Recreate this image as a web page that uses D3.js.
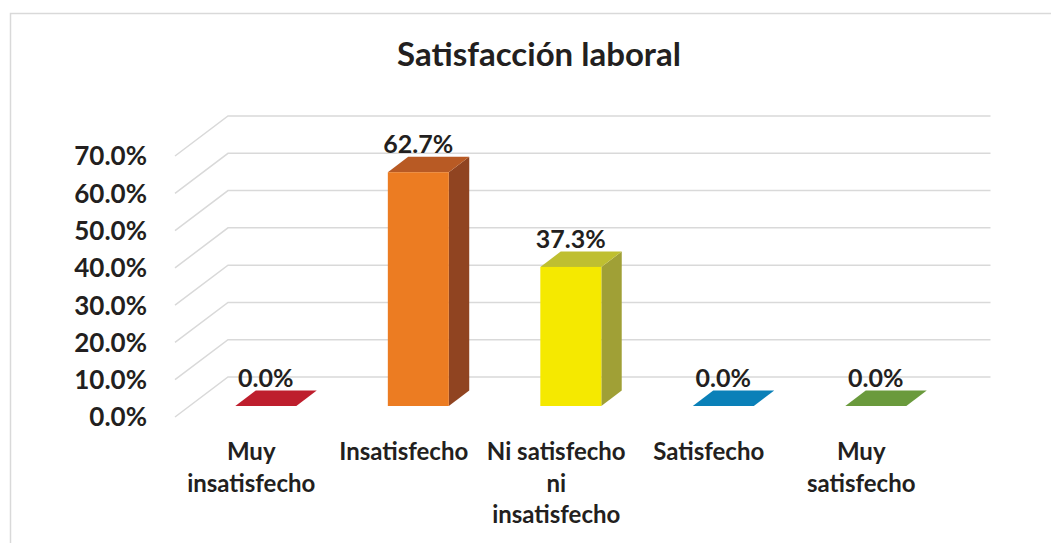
<!DOCTYPE html>
<html>
<head>
<meta charset="utf-8">
<script src="https://cdn.jsdelivr.net/npm/d3@7"></script>
<style>
  body { margin: 0; background: white; }
  text { font-family: Lato, 'Open Sans', sans-serif; font-weight: bold; fill: #231f20; }
</style>
</head>
<body>
<svg width="1051" height="543"></svg>
<script>
const svg = d3.select('svg');
const svgWidth = +svg.attr('width');
const svgHeight = +svg.attr('height');

// data
const chartTitle = 'Satisfacción laboral';
const categories = ['Muy insatisfecho', 'Insatisfecho', 'Ni satisfecho ni insatisfecho', 'Satisfecho', 'Muy satisfecho'];
const categoryLines = [['Muy', 'insatisfecho'], ['Insatisfecho'], ['Ni satisfecho', 'ni', 'insatisfecho'], ['Satisfecho'], ['Muy', 'satisfecho']];
const values = [0, 0.627, 0.373, 0, 0];
const tickValues = [0, 0.1, 0.2, 0.3, 0.4, 0.5, 0.6, 0.7];
const frontColors = ['#be1e2d', '#ec7c22', '#f5e900', '#0a80b8', '#6a9a3c'];
const sideColors = ['#8a1520', '#904421', '#a0a036', '#075d86', '#4c6f2b'];
const topColors = ['#be1e2d', '#b85a24', '#bfbf30', '#0a80b8', '#6a9a3c'];

// 3d look: wall depth and bar depth offsets
const wallDx = 53, wallDy = -40;
const barFront = 0.275, barBack = 0.66;

const x = d3.scaleBand()
  .domain(categories)
  .range([175, 937.5])
  .paddingInner(0.6)
  .paddingOuter(0.3);

const y = d3.scaleLinear()
  .domain([0, 0.7])
  .range([417, 156]);

const fmt = d3.format('.1%');

// chart border
svg.append('path')
  .attr('d', `M10.5,${svgHeight} V13.5 H${svgWidth}`)
  .attr('fill', 'none')
  .attr('stroke', '#d9d9d9')
  .attr('stroke-width', 1.5);

svg.append('text')
  .attr('x', 539)
  .attr('y', 66)
  .attr('text-anchor', 'middle')
  .style('font-size', '33px')
  .text(chartTitle);

// gridlines: side wall diagonal + back wall horizontal
const x0 = x.range()[0], x1 = x.range()[1];
svg.append('g')
  .attr('class', 'grid')
  .selectAll('path')
  .data(tickValues)
  .join('path')
    .attr('d', t => `M${x0},${y(t)} L${x0 + wallDx},${y(t) + wallDy} L${x1 + wallDx},${y(t) + wallDy}`)
    .attr('fill', 'none')
    .attr('stroke', '#d9d9d9')
    .attr('stroke-width', 1.5);

svg.append('g')
  .attr('class', 'y-ticks')
  .selectAll('text')
  .data(tickValues)
  .join('text')
    .attr('x', 147)
    .attr('y', t => y(t))
    .attr('dy', '0.36em')
    .attr('text-anchor', 'end')
    .style('font-size', '26px')
    .text(fmt);

const bars = svg.append('g')
  .attr('class', 'bars')
  .selectAll('g.bar')
  .data(categories.map((c, i) => ({ c, v: values[i], i })))
  .join('g')
    .attr('class', 'bar');

const pts = d => {
  const fx = x(d.c) + barFront * wallDx, fy = barFront * wallDy;
  const bx = x(d.c) + barBack * wallDx, by = barBack * wallDy;
  const w = x.bandwidth();
  return { fx, fy, bx, by, w, y0: y(0), y1: y(d.v) };
};

// right side
bars.append('path')
  .attr('d', d => {
    const p = pts(d);
    return `M${p.fx + p.w},${p.y0 + p.fy} L${p.bx + p.w},${p.y0 + p.by} L${p.bx + p.w},${p.y1 + p.by} L${p.fx + p.w},${p.y1 + p.fy}Z`;
  })
  .attr('fill', d => sideColors[d.i]);

// top
bars.append('path')
  .attr('d', d => {
    const p = pts(d);
    return `M${p.fx},${p.y1 + p.fy} L${p.bx},${p.y1 + p.by} L${p.bx + p.w},${p.y1 + p.by} L${p.fx + p.w},${p.y1 + p.fy}Z`;
  })
  .attr('fill', d => topColors[d.i]);

// front
bars.append('rect')
  .attr('x', d => pts(d).fx)
  .attr('y', d => y(d.v) + pts(d).fy)
  .attr('width', x.bandwidth())
  .attr('height', d => y(0) - y(d.v))
  .attr('fill', d => frontColors[d.i]);

// value labels
bars.append('text')
  .attr('x', d => pts(d).fx + x.bandwidth() / 2)
  .attr('y', d => y(d.v) + pts(d).by - 4)
  .attr('text-anchor', 'middle')
  .style('font-size', '25px')
  .text(d => fmt(d.v));

// category labels
svg.append('g')
  .attr('class', 'x-labels')
  .selectAll('text')
  .data(categories)
  .join('text')
    .attr('text-anchor', 'middle')
    .style('font-size', '24px')
    .each(function(c, i) {
      d3.select(this).selectAll('tspan')
        .data(categoryLines[i])
        .join('tspan')
          .attr('x', x(c) + x.bandwidth() / 2)
          .attr('y', (l, j) => 460 + j * 31.5)
          .text(l => l);
    });
</script>
</body>
</html>
